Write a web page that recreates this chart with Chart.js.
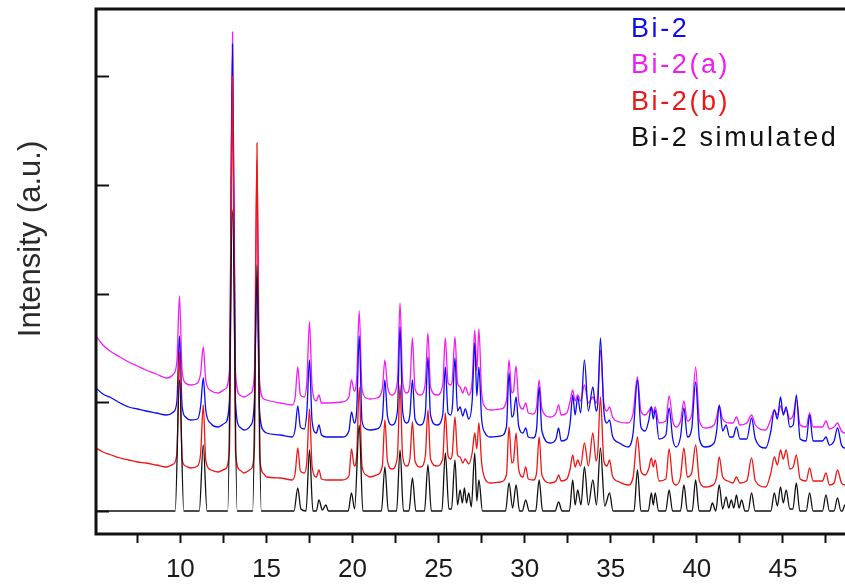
<!DOCTYPE html>
<html>
<head>
<meta charset="utf-8">
<script src="https://cdn.jsdelivr.net/npm/chart.js@4.4.0/dist/chart.umd.min.js"></script>
<style>
  html, body { margin: 0; padding: 0; background: #fff; overflow: hidden; }
  #wrap { width: 845px; height: 588px; overflow: hidden; }
  canvas { display: block; }
</style>
</head>
<body>
<div id="wrap"><canvas id="xrd" width="880" height="588"></canvas></div>
<script>
  // 2theta (deg) / intensity (counts, traces stacked with offsets)
  var bi2sim = [[5.1,0],[9.7,0],[9.95,131],[10.2,0],[11.1,0],[11.33,66],[11.55,0],[12.75,0],[13.03,301],[13.3,0],[14.2,0],[14.45,246],[14.7,0],[16.6,0],[16.82,23],[17.0,2],[17.3,0],[17.5,61],[17.7,0],[17.9,0],[18.05,11],[18.25,1],[18.45,6],[18.6,0],[19.75,0],[19.94,18],[20.12,2],[20.39,86],[20.6,0],[21.68,0],[21.88,44],[22.08,0],[22.56,0],[22.76,61],[22.96,0],[23.28,0],[23.48,33],[23.68,0],[24.18,0],[24.38,46],[24.58,0],[25.19,0],[25.39,58],[25.6,2],[25.75,2],[25.95,51],[26.1,6],[26.25,21],[26.38,8],[26.5,23],[26.62,8],[26.75,18],[26.9,4],[27.1,58],[27.22,10],[27.34,31],[27.55,0],[28.89,0],[29.09,28],[29.3,3],[29.5,26],[29.7,0],[29.86,0],[30.06,11],[30.26,0],[30.64,0],[30.84,31],[31.04,0],[31.77,0],[31.97,9],[32.17,0],[32.6,0],[32.79,31],[32.93,6],[33.08,21],[33.27,6],[33.47,44],[33.7,6],[33.96,31],[34.17,6],[34.4,63],[34.65,5],[34.93,18],[35.13,0],[36.35,0],[36.55,41],[36.75,0],[37.18,0],[37.36,18],[37.47,6],[37.58,18],[37.78,0],[38.19,0],[38.39,21],[38.59,0],[39.05,0],[39.25,26],[39.45,0],[39.73,0],[39.93,31],[40.13,0],[40.75,0],[40.9,8],[41.1,0],[41.3,26],[41.5,2],[41.7,14],[41.85,3],[42.0,11],[42.15,3],[42.3,16],[42.45,3],[42.6,11],[42.8,0],[42.98,0],[43.18,18],[43.38,0],[44.3,0],[44.5,18],[44.68,5],[44.86,24],[45.02,8],[45.19,21],[45.4,2],[45.58,2],[45.78,28],[45.98,0],[46.35,0],[46.55,18],[46.75,0],[47.3,0],[47.5,16],[47.7,0],[47.97,0],[48.17,13],[48.37,0],[48.45,0],[48.6,6],[48.75,0],[50,0]];

  var bi2b = [[5.1,63],[5.5,59],[6,56],[6.5,53],[7,51],[7.5,49],[8,48],[8.6,46],[9.2,44],[9.6,47],[9.8,58],[9.95,159],[10.1,52],[10.3,45],[10.6,43],[11.0,45],[11.18,58],[11.33,106],[11.48,50],[11.8,41],[12.2,39],[12.6,42],[12.85,60],[13.03,435],[13.2,60],[13.45,41],[13.7,38],[14.1,42],[14.3,62],[14.45,368],[14.6,55],[14.85,37],[15.0,34],[15.8,33],[16.5,31],[16.67,38],[16.82,63],[16.97,40],[17.2,38],[17.35,50],[17.5,102],[17.65,45],[17.9,34],[18.05,41],[18.2,32],[18.5,31],[19.4,31],[19.79,35],[19.94,62],[20.1,45],[20.24,55],[20.39,124],[20.55,45],[20.8,36],[21.0,34],[21.4,36],[21.73,45],[21.88,91],[22.03,50],[22.3,42],[22.61,55],[22.76,126],[22.91,55],[23.15,45],[23.33,52],[23.48,89],[23.63,50],[23.95,44],[24.23,55],[24.38,101],[24.53,52],[24.9,45],[25.24,52],[25.39,98],[25.55,55],[25.7,52],[25.8,58],[25.95,94],[26.1,56],[26.25,54],[26.4,48],[26.55,52],[26.75,47],[26.95,58],[27.1,78],[27.22,62],[27.34,88],[27.5,48],[27.7,32],[28.0,28],[28.6,29],[28.94,36],[29.09,84],[29.25,48],[29.35,50],[29.5,78],[29.65,42],[29.9,34],[30.06,44],[30.21,32],[30.5,31],[30.69,38],[30.84,74],[31.0,36],[31.5,28],[31.82,30],[31.97,36],[32.12,30],[32.45,32],[32.64,42],[32.79,56],[32.93,44],[33.08,51],[33.25,45],[33.47,68],[33.7,45],[33.96,78],[34.15,50],[34.25,60],[34.4,114],[34.6,50],[34.78,45],[34.93,51],[35.1,35],[35.5,29],[36.0,26],[36.3,34],[36.55,74],[36.75,40],[37.0,36],[37.2,42],[37.36,53],[37.47,44],[37.58,51],[37.8,30],[38.2,32],[38.39,62],[38.6,30],[38.8,26],[39.05,34],[39.25,63],[39.45,34],[39.7,38],[39.93,66],[40.15,30],[40.5,24],[41.0,27],[41.15,34],[41.3,54],[41.5,34],[41.8,30],[42.1,28],[42.3,34],[42.5,28],[42.9,30],[43.18,53],[43.4,30],[44.0,24],[44.3,38],[44.5,54],[44.68,46],[44.86,61],[45.02,52],[45.19,61],[45.4,42],[45.6,44],[45.78,56],[46.0,32],[46.35,30],[46.55,43],[46.75,30],[47.3,30],[47.5,38],[47.7,26],[47.97,28],[48.17,41],[48.4,28],[48.6,26],[48.8,31],[49.0,25],[50,24]];

  var bi2 = [[5.1,123],[5.5,117],[6,113],[6.5,108],[7,104],[7.5,102],[8,100],[8.6,98],[9.2,96],[9.6,99],[9.8,110],[9.95,175],[10.1,105],[10.3,94],[10.6,91],[11.0,92],[11.18,105],[11.33,133],[11.48,100],[11.8,87],[12.2,84],[12.6,88],[12.85,110],[13.03,467],[13.2,110],[13.45,84],[13.7,81],[14.1,86],[14.3,110],[14.45,234],[14.6,100],[14.85,80],[15.0,78],[15.8,76],[16.5,74],[16.67,82],[16.82,105],[16.97,84],[17.2,82],[17.35,100],[17.5,151],[17.65,90],[17.9,78],[18.05,86],[18.2,76],[18.5,74],[19.4,74],[19.79,80],[19.94,99],[20.1,88],[20.24,100],[20.39,175],[20.55,90],[20.8,82],[21.0,81],[21.4,82],[21.73,92],[21.88,131],[22.03,95],[22.3,86],[22.61,100],[22.76,184],[22.91,100],[23.15,88],[23.33,96],[23.48,131],[23.63,92],[23.95,86],[24.23,98],[24.38,154],[24.53,96],[24.9,86],[25.24,96],[25.39,144],[25.55,98],[25.7,96],[25.8,104],[25.95,153],[26.1,100],[26.25,104],[26.4,95],[26.55,102],[26.75,92],[26.95,110],[27.1,168],[27.22,115],[27.34,144],[27.5,92],[27.7,78],[28.0,74],[28.6,75],[28.94,84],[29.09,138],[29.25,94],[29.35,96],[29.5,114],[29.65,85],[29.9,78],[30.06,83],[30.21,74],[30.5,73],[30.69,82],[30.84,124],[31.0,80],[31.5,68],[31.82,72],[31.97,83],[32.12,70],[32.45,72],[32.64,88],[32.79,116],[32.93,96],[33.08,114],[33.25,98],[33.47,151],[33.7,100],[33.96,124],[34.15,100],[34.25,108],[34.4,173],[34.6,100],[34.78,88],[34.93,91],[35.1,75],[35.5,68],[36.0,64],[36.3,78],[36.55,131],[36.75,84],[37.0,80],[37.2,90],[37.36,104],[37.47,92],[37.58,101],[37.8,72],[38.2,76],[38.39,103],[38.6,72],[38.8,64],[39.05,74],[39.25,103],[39.45,74],[39.7,82],[39.93,129],[40.15,72],[40.5,64],[41.0,68],[41.15,80],[41.3,106],[41.5,80],[41.7,86],[41.9,74],[42.1,74],[42.3,84],[42.5,72],[42.9,72],[43.18,93],[43.4,72],[44.0,63],[44.3,80],[44.5,101],[44.68,92],[44.86,114],[45.02,96],[45.19,104],[45.4,84],[45.6,86],[45.78,116],[46.0,72],[46.35,70],[46.55,96],[46.75,70],[47.3,70],[47.5,74],[47.7,66],[47.97,70],[48.17,83],[48.4,66],[48.6,63],[48.8,68],[49.0,62],[50,62]];

  var bi2a = [[5.1,175],[5.5,166],[6,159],[6.5,154],[7,149],[7.5,145],[8,141],[8.6,137],[9.2,133],[9.6,137],[9.8,150],[9.95,215],[10.1,140],[10.3,128],[10.6,126],[11.0,128],[11.18,138],[11.33,164],[11.48,130],[11.8,120],[12.2,118],[12.6,122],[12.85,140],[13.03,479],[13.2,140],[13.45,116],[13.7,114],[14.1,118],[14.3,138],[14.45,351],[14.6,130],[14.85,112],[15.0,111],[15.8,108],[16.5,106],[16.67,114],[16.82,144],[16.97,116],[17.2,114],[17.35,130],[17.5,189],[17.65,125],[17.9,110],[18.05,116],[18.2,108],[18.5,108],[19.4,109],[19.79,114],[19.94,131],[20.1,120],[20.24,132],[20.39,200],[20.55,122],[20.8,113],[21.0,112],[21.4,113],[21.73,122],[21.88,151],[22.03,125],[22.3,116],[22.61,130],[22.76,208],[22.91,130],[23.15,118],[23.33,126],[23.48,173],[23.63,122],[23.95,116],[24.23,128],[24.38,178],[24.53,124],[24.9,116],[25.24,126],[25.39,173],[25.55,128],[25.7,126],[25.8,132],[25.95,174],[26.1,128],[26.25,124],[26.4,118],[26.55,124],[26.75,116],[26.95,130],[27.1,181],[27.22,140],[27.34,182],[27.5,118],[27.7,104],[28.0,101],[28.6,102],[28.94,110],[29.09,151],[29.25,118],[29.35,120],[29.5,145],[29.65,110],[29.9,102],[30.06,108],[30.21,98],[30.5,97],[30.69,104],[30.84,131],[31.0,102],[31.5,94],[31.82,98],[31.97,106],[32.12,96],[32.45,98],[32.64,110],[32.79,121],[32.93,110],[33.08,116],[33.25,110],[33.47,126],[33.7,108],[33.96,114],[34.15,108],[34.25,118],[34.4,161],[34.6,108],[34.78,100],[34.93,104],[35.1,94],[35.5,89],[36.0,88],[36.3,98],[36.55,134],[36.75,100],[37.0,96],[37.2,100],[37.36,104],[37.47,98],[37.58,104],[37.8,88],[38.2,90],[38.39,115],[38.6,90],[38.8,84],[39.05,90],[39.25,110],[39.45,90],[39.7,96],[39.93,144],[40.15,90],[40.5,83],[41.0,86],[41.15,94],[41.3,105],[41.5,92],[41.9,88],[42.1,88],[42.3,94],[42.5,86],[42.9,88],[43.18,96],[43.4,86],[44.0,81],[44.3,92],[44.5,101],[44.68,96],[44.86,105],[45.02,98],[45.19,101],[45.4,92],[45.6,96],[45.78,111],[46.0,86],[46.35,84],[46.55,98],[46.75,84],[47.3,84],[47.5,90],[47.7,82],[47.97,84],[48.17,88],[48.4,80],[48.6,78],[48.8,80],[49.0,77],[50,76]];

  var xTicks = [7.5, 10, 12.5, 15, 17.5, 20, 22.5, 25, 27.5, 30, 32.5, 35, 37.5, 40, 42.5, 45, 47.5, 50];
  var xLabels = [10, 15, 20, 25, 30, 35, 40, 45];
  var yTicks = [0, 109, 217, 326, 435];
  var legendNames = ["Bi-2", "Bi-2(a)", "Bi-2(b)", "Bi-2 simulated"];
  var legendColors = ["#0d0df0", "#f01cf0", "#ee1616", "#111111"];
  var yTitle = "Intensity (a.u.)";

  var FONT = '"Liberation Sans", Arial, sans-serif';

  // frame, inward y ticks, axis title and text legend
  var decor = {
    id: "decor",
    afterDraw: function (chart) {
      var ctx = chart.ctx;
      var a = chart.chartArea;
      var ys = chart.scales.y;
      ctx.save();
      ctx.strokeStyle = "#111";
      ctx.lineWidth = 3;
      ctx.strokeRect(a.left, a.top, a.right - a.left, a.bottom - a.top);

      ctx.lineWidth = 2;
      yTicks.forEach(function (v) {
        var py = Math.round(ys.getPixelForValue(v)) + 0.5;
        ctx.beginPath();
        ctx.moveTo(a.left, py);
        ctx.lineTo(a.left + 13, py);
        ctx.stroke();
      });

      ctx.fillStyle = "#2a2a2a";
      ctx.font = "31px " + FONT;
      ctx.textAlign = "center";
      ctx.textBaseline = "middle";
      ctx.translate(31, 239);
      ctx.rotate(-Math.PI / 2);
      ctx.fillText(yTitle, 0, 0);
      ctx.restore();

      ctx.save();
      ctx.font = "27px " + FONT;
      ctx.letterSpacing = "2.6px";
      ctx.textAlign = "left";
      ctx.textBaseline = "alphabetic";
      legendNames.forEach(function (name, i) {
        ctx.fillStyle = legendColors[i];
        ctx.fillText(name, 631, 37 + i * 36.3);
      });
      ctx.restore();
    }
  };

  function series(data, color, order) {
    return {
      data: data,
      borderColor: color,
      borderWidth: 1.3,
      pointRadius: 0,
      fill: false,
      cubicInterpolationMode: "monotone",
      order: order
    };
  }

  new Chart(document.getElementById("xrd"), {
    type: "line",
    data: {
      datasets: [
        series(bi2sim, "#111111", 0),
        series(bi2b, "#f01414", 1),
        series(bi2, "#0a0af5", 2),
        series(bi2a, "#f51af5", 3)
      ]
    },
    options: {
      responsive: false,
      animation: false,
      layout: { padding: { top: 9, right: 11, left: 0, bottom: 0 } },
      plugins: { legend: { display: false }, tooltip: { enabled: false } },
      scales: {
        x: {
          type: "linear",
          min: 5.1,
          max: 50,
          afterBuildTicks: function (s) {
            s.ticks = xTicks.map(function (v) { return { value: v }; });
          },
          afterFit: function (s) {
            s.height = 54;
            s.paddingLeft = 0;
            s.paddingRight = 0;
          },
          ticks: {
            autoSkip: false,
            maxRotation: 0,
            padding: 11,
            color: "#1a1a1a",
            font: { family: FONT, size: 26 },
            callback: function (v) { return xLabels.indexOf(v) >= 0 ? String(v) : ""; }
          },
          grid: {
            drawOnChartArea: false,
            drawTicks: true,
            tickLength: 9,
            tickWidth: 2,
            tickColor: "#111"
          },
          border: { display: false }
        },
        y: {
          type: "linear",
          min: -23,
          max: 502,
          afterBuildTicks: function (s) {
            s.ticks = yTicks.map(function (v) { return { value: v }; });
          },
          afterFit: function (s) { s.width = 96; },
          ticks: { display: false },
          grid: { display: false },
          border: { display: false }
        }
      }
    },
    plugins: [decor]
  });
</script>
</body>
</html>
